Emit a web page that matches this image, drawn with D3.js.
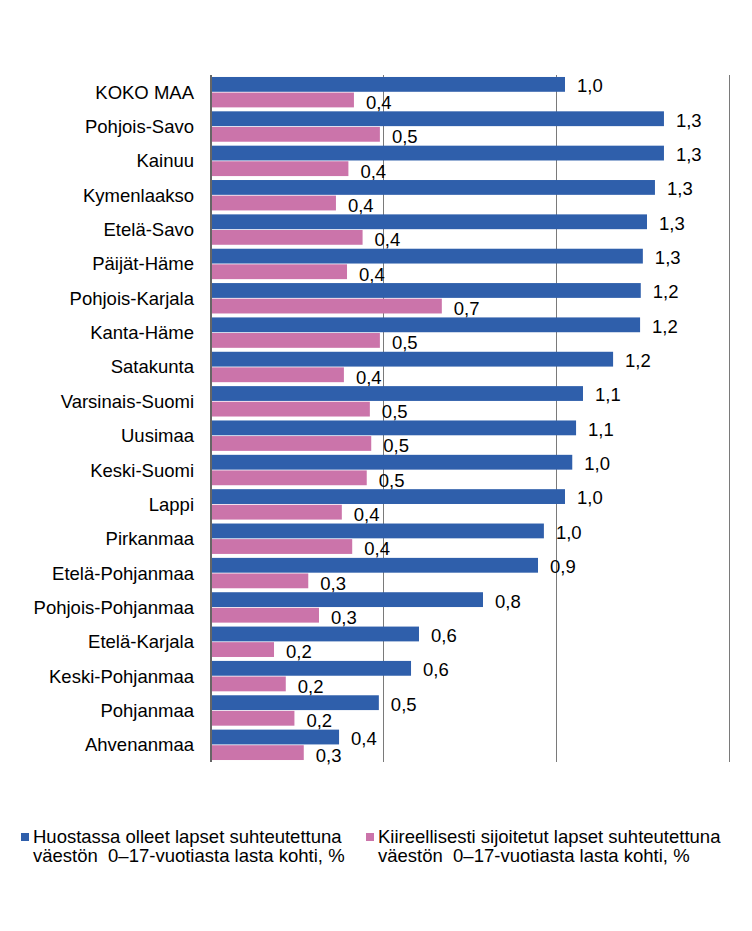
<!DOCTYPE html>
<html>
<head>
<meta charset="utf-8">
<script src="https://cdn.jsdelivr.net/npm/d3@7"></script>
<style>
  html, body { margin: 0; padding: 0; background: #fff; }
  svg { display: block; font-family: "Liberation Sans", Arial, sans-serif; }
</style>
</head>
<body>
<svg id="chart" width="752" height="931"></svg>
<script>
const categories = ["KOKO MAA","Pohjois-Savo","Kainuu","Kymenlaakso","Etelä-Savo","Päijät-Häme",
  "Pohjois-Karjala","Kanta-Häme","Satakunta","Varsinais-Suomi","Uusimaa","Keski-Suomi","Lappi",
  "Pirkanmaa","Etelä-Pohjanmaa","Pohjois-Pohjanmaa","Etelä-Karjala","Keski-Pohjanmaa","Pohjanmaa","Ahvenanmaa"];
const huostassa = [1.026,1.312,1.312,1.286,1.263,1.251,1.245,1.243,1.165,1.078,1.058,1.047,1.026,
  0.965,0.948,0.789,0.604,0.581,0.488,0.373];
const kiireelliset = [0.416,0.491,0.400,0.364,0.441,0.396,0.670,0.491,0.387,0.462,0.466,0.453,0.381,
  0.411,0.284,0.315,0.185,0.219,0.244,0.271];
const seriesNames = [
  ["Huostassa olleet lapset suhteutettuna", "väestön  0–17-vuotiasta lasta kohti, %"],
  ["Kiireellisesti sijoitetut lapset suhteutettuna", "väestön  0–17-vuotiasta lasta kohti, %"]
];
const xTicks = [0.5, 1.0, 1.5];
const colors = ["#2f5fab", "#cb74aa"];

const svg = d3.select("#chart");
const mLeft = 210, mRight = 729, mTop = 75, mBottom = 762;
const fs = 18.5;

const x = d3.scaleLinear().domain([0, 1.5]).range([mLeft, mRight]);
const y = d3.scaleBand().domain(categories).range([mTop, mBottom]).paddingInner(0.115).paddingOuter(0.0575);
const sub = d3.scaleBand().domain([0, 1]).range([0, y.bandwidth()]).paddingInner(0.05);

const fmt = v => d3.format(".1f")(v).replace(".", ",");

// gridlines
svg.append("g").selectAll("line").data(xTicks).join("line")
  .attr("x1", d => Math.round(x(d)) + 0.5).attr("x2", d => Math.round(x(d)) + 0.5)
  .attr("y1", mTop).attr("y2", mBottom)
  .attr("stroke", "#7a7a7a").attr("stroke-width", 1);

const data = categories.map((c, i) => ({ c, vals: [huostassa[i], kiireelliset[i]] }));

const g = svg.append("g").selectAll("g").data(data).join("g")
  .attr("transform", d => `translate(0,${y(d.c)})`);

g.selectAll("rect").data(d => d.vals).join("rect")
  .attr("x", x(0))
  .attr("y", (v, j) => sub(j))
  .attr("width", v => x(v) - x(0))
  .attr("height", sub.bandwidth())
  .attr("fill", (v, j) => colors[j]);

g.selectAll("text.val").data(d => d.vals).join("text")
  .attr("class", "val")
  .attr("x", v => x(v) + 12)
  .attr("y", (v, j) => sub(j) + sub.bandwidth() + 0.5 + j)
  .attr("font-size", fs)
  .attr("fill", "#000")
  .text(v => fmt(v));

// category axis
const yAxis = d3.axisLeft(y).tickSize(0).tickPadding(16);
const ya = svg.append("g").attr("transform", `translate(${mLeft},0)`).call(yAxis);
ya.select(".domain").remove();
ya.selectAll("text").attr("font-size", fs).attr("fill", "#000")
  .attr("font-family", "'Liberation Sans', Arial, sans-serif").attr("dy", "0.35em");

svg.append("line").attr("x1", mLeft + 1).attr("x2", mLeft + 1).attr("y1", mTop).attr("y2", mBottom)
  .attr("stroke", "#666").attr("stroke-width", 2);

// legend
const legendX = [21, 366];
const lg = svg.append("g").selectAll("g").data(seriesNames).join("g")
  .attr("transform", (d, i) => `translate(${legendX[i]},0)`);
lg.append("rect").attr("x", 0).attr("y", 833).attr("width", 8).attr("height", 8)
  .attr("fill", (d, i) => colors[i]);
lg.append("text").attr("font-size", fs).attr("fill", "#000")
  .selectAll("tspan").data(d => d).join("tspan")
  .attr("x", 12).attr("y", (t, k) => 843 + k * 19)
  .attr("xml:space", "preserve").style("white-space", "pre")
  .text(t => t);
</script>
</body>
</html>
